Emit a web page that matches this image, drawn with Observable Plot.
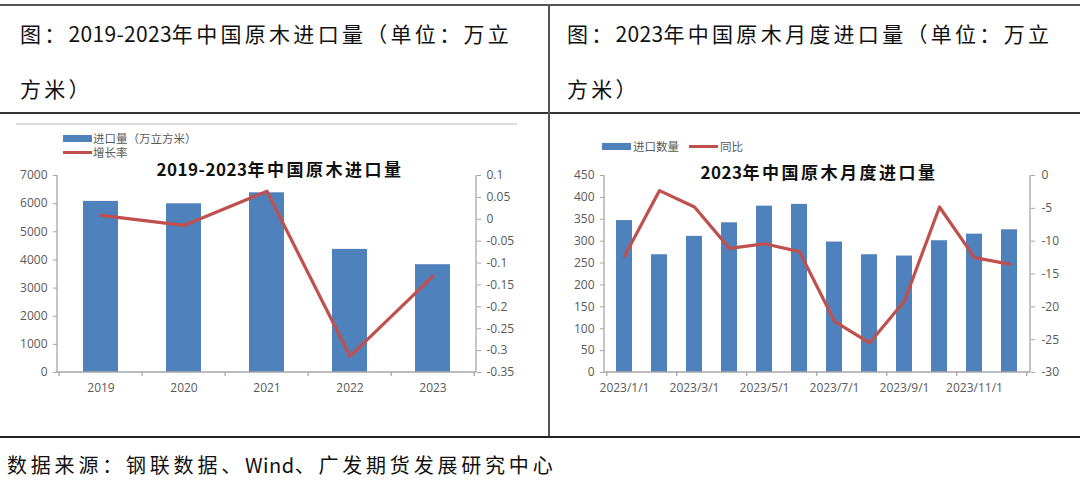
<!DOCTYPE html>
<html><head><meta charset="utf-8">
<script src="https://cdn.jsdelivr.net/npm/d3@7"></script>
<script src="https://cdn.jsdelivr.net/npm/@observablehq/plot@0.6"></script>
<style>
body{margin:0;background:#fff;width:1080px;height:491px;overflow:hidden;position:relative;font-family:"Noto Sans CJK SC","Noto Sans",sans-serif;}
.ln{position:absolute;}
.head{position:absolute;font-size:21px;letter-spacing:3.3px;color:#111;white-space:nowrap;line-height:24px;}
.num{letter-spacing:0.3px}
.ctitle{position:absolute;font-size:17px;font-weight:700;letter-spacing:2.5px;color:#111;white-space:nowrap;line-height:20px;transform:translateX(-50%);}
.leg{position:absolute;font-size:11.5px;color:#595959;white-space:nowrap;line-height:14px;}
.sw{position:absolute;}
.chart{position:absolute;}
.cap{position:absolute;left:7px;top:453px;font-size:20px;letter-spacing:3.8px;color:#111;white-space:nowrap;line-height:24px;}
</style>
</head><body>
<div class="ln" style="left:0;top:4px;width:1080px;height:2px;background:#555"></div>
<div class="ln" style="left:0;top:112px;width:1080px;height:2px;background:#333"></div>
<div class="ln" style="left:548px;top:4px;width:2px;height:434px;background:#555"></div>
<div class="ln" style="left:0;top:436px;width:1080px;height:2px;background:#222"></div>
<div class="ln" style="left:16px;top:123px;width:501px;height:2px;background:#dcdcdc"></div>

<div class="head" style="left:20px;top:21px">图：<span class="num">2019-2023</span>年中国原木进口量（单位：万立</div>
<div class="head" style="left:20px;top:76px">方米）</div>
<div class="head" style="left:567px;top:21px">图：<span class="num">2023</span>年中国原木月度进口量（单位：万立</div>
<div class="head" style="left:567px;top:76px">方米）</div>

<div id="c1" class="chart" style="left:0;top:120px"></div>
<div id="c2" class="chart" style="left:540px;top:120px"></div>

<div class="ctitle" style="left:280px;top:159px"><span style="letter-spacing:0.5px">2019-2023</span>年中国原木进口量</div>
<div class="ctitle" style="left:819px;top:162px"><span style="letter-spacing:0.5px">2023</span>年中国原木月度进口量</div>

<div class="sw" style="left:63px;top:135px;width:29px;height:7px;background:#4F81BD"></div>
<div class="leg" style="left:93px;top:131px">进口量（万立方米）</div>
<div class="sw" style="left:63px;top:151px;width:29px;height:3px;background:#C0504D"></div>
<div class="leg" style="left:93px;top:145px">增长率</div>

<div class="sw" style="left:602px;top:143px;width:29px;height:7px;background:#4F81BD"></div>
<div class="leg" style="left:633px;top:139px">进口数量</div>
<div class="sw" style="left:689px;top:145px;width:29px;height:3px;background:#C0504D"></div>
<div class="leg" style="left:720px;top:139px">同比</div>

<div class="cap">数据来源：钢联数据、<span style="letter-spacing:0.5px">Wind</span>、广发期货发展研究中心</div>

<script>
// ---- Chart 1 data ----
const years = ["2019", "2020", "2021", "2022", "2023"];
const importVolume = [6080, 5995, 6385, 4375, 3830];
const growthRate = [0.009, -0.014, 0.064, -0.313, -0.13];
const leftTicks1 = [0, 1000, 2000, 3000, 4000, 5000, 6000, 7000];
const rightTicks1 = [0.1, 0.05, 0, -0.05, -0.1, -0.15, -0.2, -0.25, -0.3, -0.35];

// ---- Chart 2 data ----
const months = ["2023/1/1", "2023/2/1", "2023/3/1", "2023/4/1", "2023/5/1", "2023/6/1",
  "2023/7/1", "2023/8/1", "2023/9/1", "2023/10/1", "2023/11/1", "2023/12/1"];
const monthVolume = [347, 269, 311, 342, 380, 384, 298, 269, 266, 301, 316, 326];
const yoy = [-12.3, -2.3, -4.8, -11.1, -10.4, -11.6, -22.2, -25.5, -19.1, -4.8, -12.5, -13.5];
const monthTickLabels = ["2023/1/1", "2023/3/1", "2023/5/1", "2023/7/1", "2023/9/1", "2023/11/1"];
const leftTicks2 = [0, 50, 100, 150, 200, 250, 300, 350, 400, 450];
const rightTicks2 = [0, -5, -10, -15, -20, -25, -30];

const BLUE = "#4F81BD", RED = "#C0504D", AX = "#a6a6a6", TXT = "#595959";

function dual(lmax, rmin, rmax) {
  const to = v => (v - rmin) / (rmax - rmin) * lmax;
  const from = v => v / lmax * (rmax - rmin) + rmin;
  return {to, from};
}
const fmt = v => { const r = +v.toFixed(2); return String(Object.is(r, -0) ? 0 : r); };

// axis lines + category boundary ticks (every `every` bands)
function frameLines(every) {
  return (index, scales, values, dims) => {
    const {width, height, marginLeft: ml, marginRight: mr, marginTop: mt, marginBottom: mb} = dims;
    const x = scales.x;
    const dom = x.domain();
    const st = x.step();
    const off = st * x.paddingInner() / 2;
    const g = d3.create("svg:g").attr("stroke", AX).attr("stroke-width", 1.3).attr("fill", "none");
    const yB = height - mb;
    g.append("line").attr("x1", ml).attr("x2", ml).attr("y1", mt).attr("y2", yB);
    g.append("line").attr("x1", width - mr).attr("x2", width - mr).attr("y1", mt).attr("y2", yB);
    g.append("line").attr("x1", ml).attr("x2", width - mr).attr("y1", yB).attr("y2", yB);
    const bounds = dom.map(d => x(d) - off);
    bounds.push(bounds[bounds.length - 1] + st);
    bounds.forEach((b, i) => {
      if (i % every === 0) g.append("line").attr("x1", b).attr("x2", b).attr("y1", yB).attr("y2", yB + 4);
    });
    return g.node();
  };
}

// ---- Chart 1 ----
{
  const d = dual(7000, -0.35, 0.1);
  const data = years.map((y, i) => ({year: y, v: importVolume[i], g: growthRate[i]}));
  const p = Plot.plot({
    width: 530, height: 300,
    marginLeft: 57, marginRight: 54, marginTop: 55, marginBottom: 48,
    style: {fontFamily: "'Open Sans','Noto Sans',sans-serif", background: "transparent", overflow: "visible"},
    x: {type: "band", domain: years, paddingInner: 0.575, paddingOuter: 0.2875, label: null},
    y: {domain: [0, 7000], label: null},
    marks: [
      Plot.barY(data, {x: "year", y: "v", fill: BLUE}),
      frameLines(1),
      Plot.lineY(data, {x: "year", y: r => d.to(r.g), stroke: RED, strokeWidth: 3.2}),
      Plot.axisY(leftTicks1, {anchor: "left", label: null, tickSize: 4, tickPadding: 6, stroke: AX, fill: TXT, fontSize: 12, tickFormat: v => String(v)}),
      Plot.axisY(rightTicks1.map(d.to), {anchor: "right", label: null, tickSize: 4, tickPadding: 6, stroke: AX, fill: TXT, fontSize: 12, tickFormat: v => fmt(d.from(v))}),
      Plot.axisX(years, {label: null, tickSize: 0, tickPadding: 11, fill: TXT, fontSize: 12})
    ]
  });
  document.getElementById("c1").append(p);
}

// ---- Chart 2 ----
{
  const d = dual(450, -30, 0);
  const data = months.map((m, i) => ({m, v: monthVolume[i], g: yoy[i]}));
  const p = Plot.plot({
    width: 540, height: 300,
    marginLeft: 64, marginRight: 50, marginTop: 55, marginBottom: 48,
    style: {fontFamily: "'Open Sans','Noto Sans',sans-serif", background: "transparent", overflow: "visible"},
    x: {type: "band", domain: months, paddingInner: 0.53, paddingOuter: 0.265, label: null},
    y: {domain: [0, 450], label: null},
    marks: [
      Plot.barY(data, {x: "m", y: "v", fill: BLUE}),
      frameLines(2),
      Plot.lineY(data, {x: "m", y: r => d.to(r.g), stroke: RED, strokeWidth: 3.2}),
      Plot.axisY(leftTicks2, {anchor: "left", label: null, tickSize: 4, tickPadding: 6, stroke: AX, fill: TXT, fontSize: 12, tickFormat: v => String(v)}),
      Plot.axisY(rightTicks2.map(d.to), {anchor: "right", label: null, tickSize: 4, tickPadding: 7, stroke: AX, fill: TXT, fontSize: 12, tickFormat: v => fmt(d.from(v))}),
      Plot.axisX(monthTickLabels, {label: null, tickSize: 0, tickPadding: 11, fill: TXT, fontSize: 12})
    ]
  });
  document.getElementById("c2").append(p);
}
</script>
</body></html>
